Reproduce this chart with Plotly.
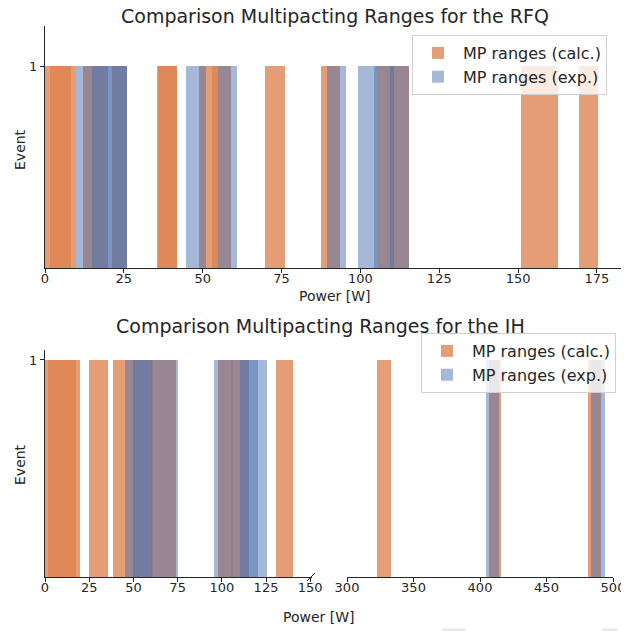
import plotly.graph_objects as go

# ---------------- data ----------------
# RFQ multipacting ranges (start, end) in W
rfq_calc_start = [0.0, 1.6, 11.9, 21.1, 35.6, 35.8, 48.9, 53.1, 69.9, 87.4, 105.4, 150.8, 156.7, 169.4]
rfq_calc_end   = [8.1, 9.8, 20.1, 26.1, 41.9, 41.9, 54.7, 59.0, 76.1, 93.5, 115.4, 156.7, 162.5, 175.4]
rfq_exp_start  = [9.8, 14.8, 44.7, 54.7, 89.3, 99.3, 104.3, 109.3]
rfq_exp_end    = [26.1, 26.1, 50.9, 60.8, 95.4, 105.4, 110.6, 115.4]

# IH multipacting ranges (start, end) in W
ih_calc_start = [0.0, 1.5, 25.1, 38.7, 50.0, 60.0, 97.7, 105.0, 130.5, 322.7, 406.7, 481.0]
ih_calc_end   = [17.8, 19.8, 35.5, 51.0, 61.0, 74.0, 106.5, 115.1, 140.5, 333.0, 416.0, 491.0]
ih_exp_start  = [45.3, 50.0, 95.3, 110.4, 404.2, 483.5]
ih_exp_end    = [75.4, 60.4, 125.4, 120.7, 414.2, 494.2]

rfq_xticks = [0, 25, 50, 75, 100, 125, 150, 175]
ih_left_ticks = [0, 25, 50, 75, 100, 125, 150]
ih_right_ticks = [300, 350, 400, 450, 500]

CALC = "rgba(221,132,82,0.8)"
EXP = "rgba(76,114,176,0.5)"
FONT = "DejaVu Sans"
AX = "#262626"
OFF = 8  # page body margin
W, H = 629 - OFF, 631 - OFF


def bars(starts, ends, color, name, xa, ya, legend, show):
    centers = [(s + e) / 2 for s, e in zip(starts, ends)]
    widths = [e - s for s, e in zip(starts, ends)]
    return go.Bar(
        x=centers, y=[1] * len(centers), width=widths, base=0,
        marker=dict(color=color, line=dict(width=0)),
        name=name, xaxis=xa, yaxis=ya, legend=legend,
        showlegend=show, legendgroup=name + legend, hoverinfo="skip",
    )


def split(starts, ends, lo, hi):
    s2, e2 = [], []
    for s, e in zip(starts, ends):
        if lo <= s < hi:
            s2.append(s)
            e2.append(e)
    return s2, e2


fig = go.Figure()
# top (RFQ)
fig.add_trace(bars(rfq_calc_start, rfq_calc_end, CALC, "MP ranges (calc.)", "x", "y", "legend", True))
fig.add_trace(bars(rfq_exp_start, rfq_exp_end, EXP, "MP ranges (exp.)", "x", "y", "legend", True))

# bottom (IH), left and right panels
cl = split(ih_calc_start, ih_calc_end, 0, 200)
cr = split(ih_calc_start, ih_calc_end, 200, 1000)
el = split(ih_exp_start, ih_exp_end, 0, 200)
er = split(ih_exp_start, ih_exp_end, 200, 1000)
fig.add_trace(bars(cl[0], cl[1], CALC, "MP ranges (calc.)", "x2", "y2", "legend2", True))
fig.add_trace(bars(cr[0], cr[1], CALC, "MP ranges (calc.)", "x3", "y3", "legend2", False))
fig.add_trace(bars(el[0], el[1], EXP, "MP ranges (exp.)", "x2", "y2", "legend2", True))
fig.add_trace(bars(er[0], er[1], EXP, "MP ranges (exp.)", "x3", "y3", "legend2", False))


def px(x):
    return (x - OFF) / W


def py(y):
    return 1 - (y - OFF) / H


axis_common = dict(
    showgrid=False, zeroline=False, showline=True, linecolor=AX, linewidth=1,
    ticks="outside", ticklen=4, tickcolor=AX, tickwidth=1, automargin=False,
    tickfont=dict(family=FONT, size=13, color=AX),
)
xaxis_common = dict(axis_common, ticklabelstandoff=-6)

leg_common = dict(
    xanchor="left", yanchor="top",
    bgcolor="rgba(255,255,255,0.8)", bordercolor="#d0d0d0", borderwidth=1,
    font=dict(family=FONT, size=16, color=AX), itemwidth=40, tracegroupgap=0,
)

fig.update_layout(
    width=W, height=H,
    margin=dict(l=0, r=0, t=0, b=0, autoexpand=False),
    paper_bgcolor="white", plot_bgcolor="rgba(0,0,0,0)",
    barmode="overlay", bargap=0,
    font=dict(family=FONT, size=13, color=AX),
    xaxis=dict(domain=[px(45), px(626)], range=[0, 184.2], anchor="y",
               tickvals=rfq_xticks, **xaxis_common),
    yaxis=dict(domain=[py(268), py(26)], range=[0, 1.2], anchor="x",
               tickvals=[1], **axis_common),
    xaxis2=dict(domain=[px(45), px(312)], range=[0, 151], anchor="y2",
                tickvals=ih_left_ticks, **xaxis_common),
    yaxis2=dict(domain=[py(577), py(350)], range=[0, 1.046], anchor="x2",
                tickvals=[1], **axis_common),
    xaxis3=dict(domain=[px(347), px(613)], range=[300, 500], anchor="y3",
                tickvals=ih_right_ticks, **xaxis_common),
    yaxis3=dict(domain=[py(577), py(350)], range=[0, 1.046], anchor="x3",
                visible=False, automargin=False),
    legend=dict(x=px(412), y=py(35), **leg_common),
    legend2=dict(x=px(421), y=py(333), **leg_common),
)

ann = [
    dict(text="Comparison Multipacting Ranges for the RFQ", x=px(335), y=py(16), size=19),
    dict(text="Power [W]", x=px(335), y=py(296), size=14),
    dict(text="Comparison Multipacting Ranges for the IH", x=px(320), y=py(326), size=19),
    dict(text="Power [W]", x=px(319), y=py(617), size=14),
]
for a in ann:
    fig.add_annotation(text=a["text"], x=a["x"], y=a["y"], xref="paper", yref="paper",
                       xanchor="center", yanchor="middle", showarrow=False, borderpad=0,
                       font=dict(family=FONT, size=a["size"], color=AX))
for yc in (150, 465):
    fig.add_annotation(text="Event", x=px(20), y=py(yc), xref="paper", yref="paper",
                       xanchor="center", yanchor="middle", showarrow=False, textangle=-90,
                       font=dict(family=FONT, size=14, color=AX))

# axis-break mark
fig.add_shape(type="line", xref="paper", yref="paper",
              x0=px(307), y0=py(581), x1=px(315), y1=py(573),
              line=dict(color=AX, width=1))
# partially visible boxes at bottom edge
for x0, x1 in ((443, 465), (603, 617)):
    fig.add_shape(type="rect", xref="paper", yref="paper",
                  x0=px(x0), x1=px(x1), y0=py(631), y1=py(629),
                  line=dict(color="#e0e0e0", width=1), fillcolor="#f7f7f7")

fig.write_html("out.html")
